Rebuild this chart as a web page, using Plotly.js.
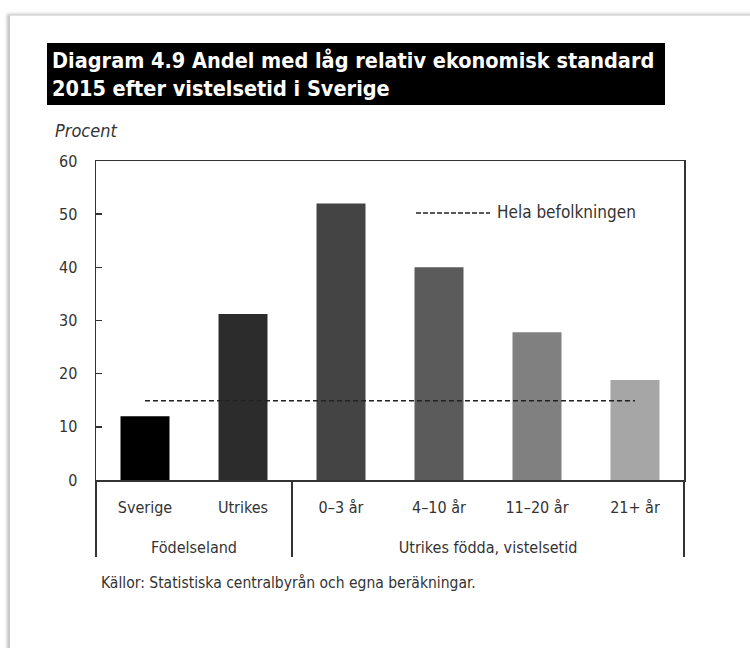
<!DOCTYPE html>
<html>
<head>
<meta charset="utf-8">
<script src="https://cdn.plot.ly/plotly-3.0.1.min.js"></script>
<style>
  html, body { margin: 0; padding: 0; background: #fff; }
  #wrap { position: relative; width: 750px; height: 648px; overflow: hidden; }
  #chart { position: absolute; left: 0; top: 0; width: 750px; height: 648px; }
  #frame { position: absolute; left: 9px; top: 15px; width: 760px; height: 660px;
           border-left: 1px solid #c8c8c8; border-top: 1px solid #e0e0e0;
           box-shadow: -2px -1px 3px rgba(0,0,0,0.25); pointer-events: none; }
</style>
</head>
<body>
<div id="wrap">
  <div id="chart"></div>
  <div id="frame"></div>
</div>
<script>
  var groups = ["Födelseland", "Födelseland", "Utrikes födda, vistelsetid", "Utrikes födda, vistelsetid", "Utrikes födda, vistelsetid", "Utrikes födda, vistelsetid"];
  var categories = ["Sverige", "Utrikes", "0–3 år", "4–10 år", "11–20 år", "21+ år"];
  var shareLow = [12, 31.2, 52, 40, 27.8, 18.8];
  var wholePopulation = [14.9, 14.9, 14.9, 14.9, 14.9, 14.9];
  var barColors = ["#000000", "#2c2c2c", "#444444", "#5b5b5b", "#808080", "#a6a6a6"];
  var yTicks = [0, 10, 20, 30, 40, 50, 60];

  var FONT = "'DejaVu Sans Condensed', 'Liberation Sans Narrow', sans-serif";

  function px(x) { return (x - 96) / 588; }
  function py(y) { return (480 - y) / 319; }

  // Spacer line below the category labels pushes the group row further down.
  var SPACER = "<br><span style='font-size:43px'>&nbsp;</span>";
  var catLabels = categories.map(function (c) { return c + SPACER; });

  var traces = [
    {
      type: "bar",
      x: [groups, catLabels],
      y: shareLow,
      marker: { color: barColors, line: { width: 0 } },
      hoverinfo: "y",
      showlegend: false
    },
    {
      type: "scatter",
      mode: "lines",
      x: [groups, catLabels],
      y: wholePopulation,
      line: { color: "#222222", width: 1.5, dash: "5px,3px" },
      name: "Hela befolkningen",
      showlegend: false
    }
  ];

  var layout = {
    width: 750,
    height: 648,
    margin: { l: 96, r: 66, t: 161, b: 168 },
    paper_bgcolor: "rgba(0,0,0,0)",
    plot_bgcolor: "#ffffff",
    bargap: 0.5,
    font: { family: FONT, color: "#333333", size: 16 },
    title: {
      text: "<b>Diagram 4.9 Andel med låg relativ ekonomisk standard<br>2015 efter vistelsetid i Sverige</b>",
      font: { family: FONT, size: 21.5, color: "#ffffff" },
      x: 52 / 750, xanchor: "left", xref: "container",
      y: 1 - 68 / 648, yanchor: "top", yref: "container"
    },
    xaxis: {
      type: "multicategory",
      showline: true, linecolor: "#333333", linewidth: 1.5, mirror: true,
      showgrid: false, zeroline: false,
      ticks: "",
      ticklabelstandoff: 12,
      tickfont: { family: FONT, size: 16, color: "#333333" },
      showdividers: true, dividercolor: "#333333", dividerwidth: 1.5
    },
    yaxis: {
      range: [0, 60],
      tickvals: yTicks,
      ticktext: yTicks.map(String),
      ticks: "inside", ticklen: 6, tickwidth: 1.5, tickcolor: "#333333",
      showline: true, linecolor: "#333333", linewidth: 1.5, mirror: true,
      showgrid: false, zeroline: false,
      tickfont: { family: FONT, size: 16, color: "#333333" },
      ticklabelstandoff: 14
    },
    shapes: [
      { type: "rect", xref: "paper", yref: "paper",
        x0: px(47), x1: px(665), y0: py(105), y1: py(43),
        fillcolor: "#000000", line: { width: 0 }, layer: "below" },
      { type: "line", xref: "paper", yref: "paper",
        x0: px(416), x1: px(490), y0: py(213), y1: py(213),
        line: { color: "#222222", width: 1.5, dash: "5px,2px" } }
    ],
    annotations: [
      { xref: "paper", yref: "paper", x: px(53), y: py(130),
        xanchor: "left", yanchor: "middle", showarrow: false,
        text: "<i>Procent</i>", font: { family: FONT, size: 18, color: "#333333" } },
      { xref: "paper", yref: "paper", x: px(495), y: py(212),
        xanchor: "left", yanchor: "middle", showarrow: false,
        text: "Hela befolkningen", font: { family: FONT, size: 17, color: "#333333" } },
      { xref: "paper", yref: "paper", x: px(99), y: py(583),
        xanchor: "left", yanchor: "middle", showarrow: false,
        text: "Källor: Statistiska centralbyrån och egna beräkningar.",
        font: { family: FONT, size: 15.5, color: "#333333" } }
    ]
  };

  Plotly.newPlot("chart", traces, layout, { displayModeBar: false, staticPlot: true });
</script>
</body>
</html>
